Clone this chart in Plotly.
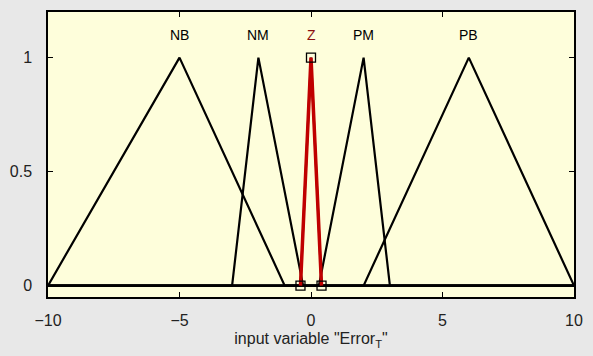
import plotly.graph_objects as go

# membership functions of input "Error_T" (trimf parameters a, b, c)
mf_names = ["NB", "NM", "Z", "PM", "PB"]
mf_params = [
    [-10, -5, -1],
    [-3, -2, -0.3],
    [-0.4, 0, 0.4],
    [0.3, 2, 3],
    [2, 6, 10],
]
x_range = [-10, 10]
selected = "Z"

x_ticks = [-10, -5, 0, 5, 10]
y_ticks = [0, 0.5, 1]
y_ticklabels = ["0", "0.5", "1"]

fig = go.Figure()

# every MF is plotted over the whole input range, like plotmf does
for name, (a, b, c) in zip(mf_names, mf_params):
    fig.add_trace(go.Scatter(
        x=[x_range[0], a, b, c, x_range[1]],
        y=[0, 0, 1, 0, 0],
        mode="lines",
        line=dict(color="black", width=2.2),
        hoverinfo="skip",
    ))

# selected MF in red with its vertex markers
a, b, c = mf_params[mf_names.index(selected)]
fig.add_trace(go.Scatter(
    x=[a, b, c], y=[0, 1, 0],
    mode="lines",
    line=dict(color="#c00000", width=3.5),
))
fig.add_trace(go.Scatter(
    x=[a, b, c], y=[0, 1, 0],
    mode="markers",
    marker=dict(symbol="square-open", size=9, color="black", line=dict(width=1.3)),
))

for name, (a, b, c) in zip(mf_names, mf_params):
    fig.add_annotation(
        x=b, y=1.1, text=name, showarrow=False,
        font=dict(size=14, color="#8b1010" if name == selected else "black"),
    )

fig.update_layout(
    width=593, height=356,
    margin=dict(l=47, r=13, t=10, b=59),
    paper_bgcolor="#e8e8e8",
    plot_bgcolor="#fefedb",
    showlegend=False,
    font=dict(family="Liberation Sans, Arial, sans-serif", size=16, color="#222"),
)
fig.update_xaxes(
    range=x_range, tickvals=x_ticks,
    ticks="inside", ticklen=5, tickcolor="black",
    showline=True, linecolor="black", linewidth=1.5, mirror="ticks",
    showgrid=False, zeroline=False, ticklabelstandoff=8,
    title=dict(text='input variable "Error<sub>T</sub>"', standoff=5,
               font=dict(size=16, color="#222")),
)
fig.update_yaxes(
    range=[-0.05, 1.2], tickvals=y_ticks, ticktext=y_ticklabels,
    ticks="inside", ticklen=5, tickcolor="black",
    showline=True, linecolor="black", linewidth=1.5, mirror="ticks",
    showgrid=False, zeroline=False, ticklabelstandoff=11,
)

# drop the default 8px body margin so the figure sits at the window corner
fig.write_html("out.html", config={"displayModeBar": False},
               post_script="document.body.style.margin='0';")
